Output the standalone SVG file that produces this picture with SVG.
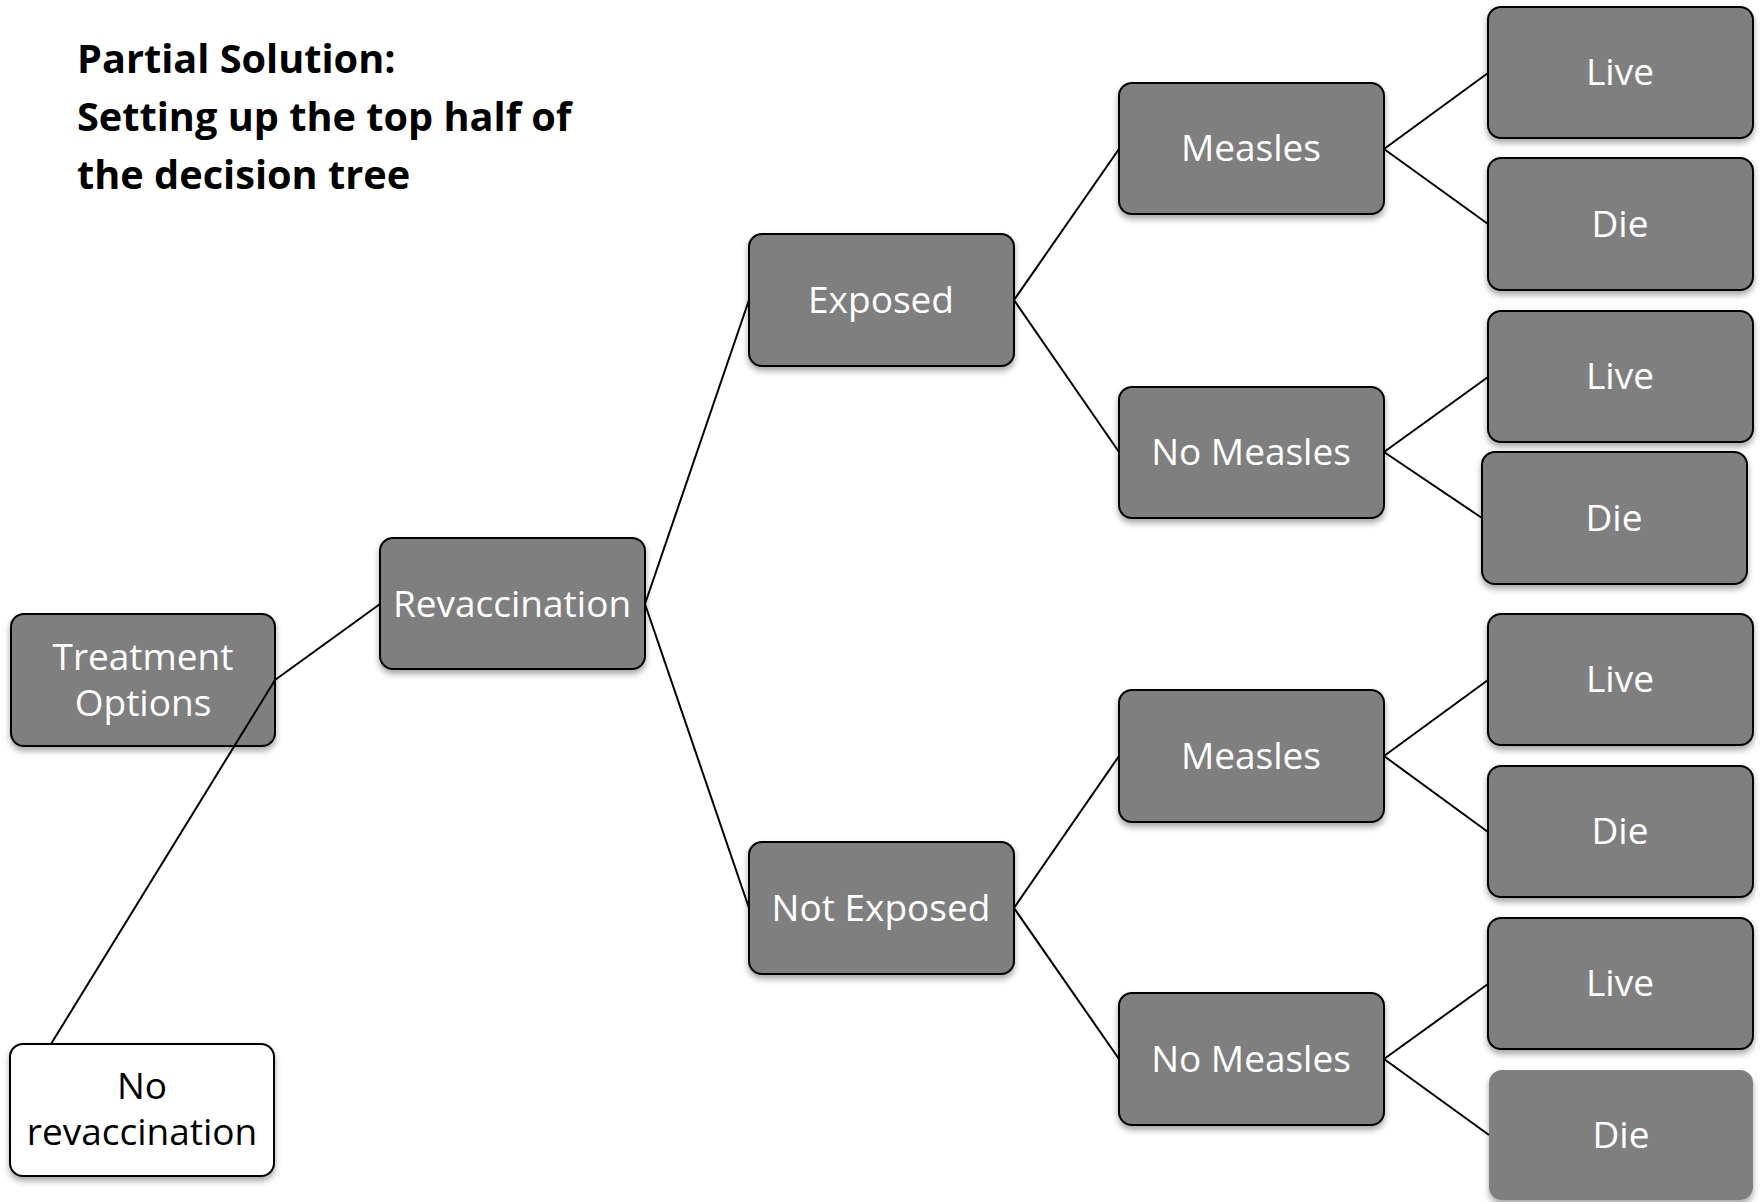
<svg xmlns="http://www.w3.org/2000/svg" width="1760" height="1202" viewBox="0 0 1760 1202">
<defs>
<filter id="sh" x="-10%" y="-10%" width="120%" height="130%">
<feDropShadow dx="0" dy="4" stdDeviation="3" flood-color="#000" flood-opacity="0.35"/>
</filter>
</defs>
<style>
.box{fill:#7f7f7f;stroke:#000;stroke-width:2;filter:url(#sh)}
.boxw{fill:#fff;stroke:#000;stroke-width:2;filter:url(#sh)}
.nob{fill:#7f7f7f;stroke:none;filter:url(#sh)}
.t{font-family:"Open Sans","Noto Sans",sans-serif;font-size:37px;fill:#fff;text-anchor:middle}
.tb{font-family:"Open Sans","Noto Sans",sans-serif;font-size:37px;fill:#000;text-anchor:middle}
.title{font-family:"Open Sans","Noto Sans",sans-serif;font-size:39.7px;font-weight:bold;fill:#000}
.c{stroke:#000;stroke-width:2;fill:none}
</style>
<rect width="1760" height="1202" fill="#fff"/>
<g id="title">
<text class="title" x="77" y="73">Partial Solution:</text>
<text class="title" x="77" y="131">Setting up the top half of</text>
<text class="title" x="77" y="189">the decision tree</text>
</g>
<g id="treatment"><rect class="box" x="11" y="614" width="264" height="132" rx="13"/><text class="t" x="143" y="670">Treatment</text><text class="t" x="143" y="716">Options</text></g>
<g id="norevacc"><rect class="boxw" x="10" y="1044" width="264" height="132" rx="13"/><text class="tb" x="142" y="1099">No</text><text class="tb" x="142" y="1145">revaccination</text></g>
<g id="revacc"><rect class="box" x="380" y="538" width="265" height="131" rx="13"/><text class="t" x="512" y="617">Revaccination</text></g>
<g id="exposed"><rect class="box" x="749" y="234" width="265" height="132" rx="13"/><text class="t" x="881" y="313">Exposed</text></g>
<g id="notexposed"><rect class="box" x="749" y="842" width="265" height="132" rx="13"/><text class="t" x="881" y="921">Not Exposed</text></g>
<g id="measles1"><rect class="box" x="1119" y="83" width="265" height="131" rx="13"/><text class="t" x="1251" y="161">Measles</text></g>
<g id="nomeasles1"><rect class="box" x="1119" y="387" width="265" height="131" rx="13"/><text class="t" x="1251" y="465">No Measles</text></g>
<g id="measles2"><rect class="box" x="1119" y="690" width="265" height="132" rx="13"/><text class="t" x="1251" y="769">Measles</text></g>
<g id="nomeasles2"><rect class="box" x="1119" y="993" width="265" height="132" rx="13"/><text class="t" x="1251" y="1072">No Measles</text></g>
<g id="live1"><rect class="box" x="1488" y="7" width="265" height="131" rx="13"/><text class="t" x="1620" y="85">Live</text></g>
<g id="die1"><rect class="box" x="1488" y="158" width="265" height="132" rx="13"/><text class="t" x="1620" y="237">Die</text></g>
<g id="live2"><rect class="box" x="1488" y="311" width="265" height="131" rx="13"/><text class="t" x="1620" y="389">Live</text></g>
<g id="die2"><rect class="box" x="1482" y="452" width="265" height="132" rx="13"/><text class="t" x="1614" y="531">Die</text></g>
<g id="live3"><rect class="box" x="1488" y="614" width="265" height="131" rx="13"/><text class="t" x="1620" y="692">Live</text></g>
<g id="die3"><rect class="box" x="1488" y="766" width="265" height="131" rx="13"/><text class="t" x="1620" y="844">Die</text></g>
<g id="live4"><rect class="box" x="1488" y="918" width="265" height="131" rx="13"/><text class="t" x="1620" y="996">Live</text></g>
<g id="die4"><rect class="nob" x="1489" y="1070" width="264" height="130" rx="13"/><text class="t" x="1621" y="1148">Die</text></g>
<g id="connectors">
<line class="c" x1="275" y1="680" x2="380" y2="604"/>
<line class="c" x1="275" y1="680" x2="51" y2="1044"/>
<line class="c" x1="645" y1="604" x2="749" y2="300"/>
<line class="c" x1="645" y1="604" x2="749" y2="908"/>
<line class="c" x1="1014" y1="300" x2="1119" y2="149"/>
<line class="c" x1="1014" y1="300" x2="1119" y2="452"/>
<line class="c" x1="1014" y1="908" x2="1119" y2="756"/>
<line class="c" x1="1014" y1="908" x2="1119" y2="1059"/>
<line class="c" x1="1384" y1="149" x2="1488" y2="73"/>
<line class="c" x1="1384" y1="149" x2="1488" y2="224"/>
<line class="c" x1="1384" y1="452" x2="1488" y2="377"/>
<line class="c" x1="1384" y1="452" x2="1482" y2="518"/>
<line class="c" x1="1384" y1="756" x2="1488" y2="680"/>
<line class="c" x1="1384" y1="756" x2="1488" y2="832"/>
<line class="c" x1="1384" y1="1059" x2="1488" y2="984"/>
<line class="c" x1="1384" y1="1059" x2="1489" y2="1135"/>
</g>
</svg>
